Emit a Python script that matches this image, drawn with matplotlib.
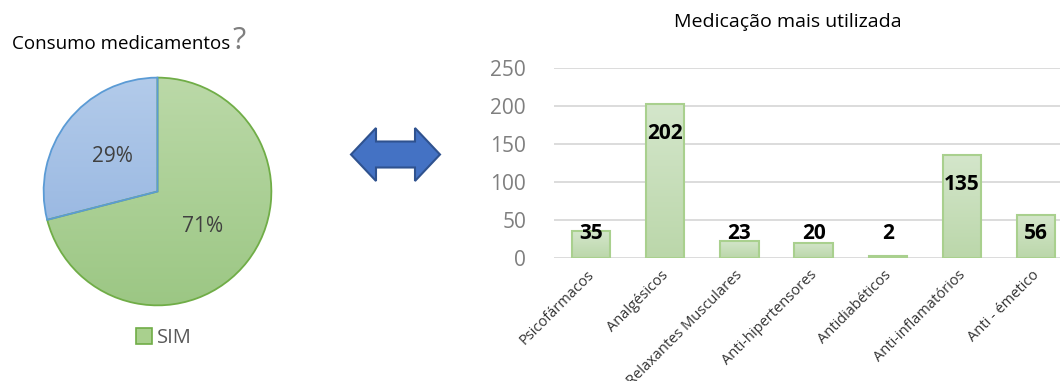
import numpy as np
import matplotlib
matplotlib.use("Agg")
import matplotlib.pyplot as plt
from matplotlib.patches import Patch, Polygon
from matplotlib.colors import LinearSegmentedColormap
import matplotlib.transforms as mtransforms

plt.rcParams['font.family'] = ['Open Sans', 'DejaVu Sans']

# Pie: medication consumption
pie_labels = ['SIM', 'NÃO']
pie_values = [71, 29]

# Bars: most used medication
categories = ['Psicofármacos', 'Analgésicos', 'Relaxantes Musculares',
              'Anti-hipertensores', 'Antidiabéticos', 'Anti-inflamatórios',
              'Anti - émetico']
counts = [35, 202, 23, 20, 2, 135, 56]
yticks = [0, 50, 100, 150, 200, 250]

W, H = 1060, 381
fig = plt.figure(figsize=(W / 100, H / 100), dpi=100)


def fx(px):
    return px / W


def fy(py):
    return 1 - py / H


grad = np.linspace(0, 1, 256).reshape(-1, 1)

# ---------- pie ----------
cx, cy, r = 157.5, 191.5, 115
ax_pie = fig.add_axes([fx(cx - r), fy(cy + r), 2 * r / W, 2 * r / H])
wedges, _, autotexts = ax_pie.pie(
    pie_values, startangle=90, counterclock=False, radius=1,
    autopct='%d%%', pctdistance=0.5,
    colors=['none', 'none'],
    wedgeprops=dict(linewidth=1.3),
    textprops=dict(fontsize=15, color='#404040'))
wedges[0].set_edgecolor('#70AD47')
wedges[1].set_edgecolor('#5B9BD5')

# vertical gradient fill for each wedge
green_cmap = LinearSegmentedColormap.from_list('g', ['#BBD9A8', '#9CC784'])
blue_cmap = LinearSegmentedColormap.from_list('b', ['#B3CBEA', '#8DAFDE'])
for w, cm in zip(wedges, [green_cmap, blue_cmap]):
    im = ax_pie.imshow(grad, cmap=cm, extent=(-1, 1, -1, 1), origin='upper',
                       aspect='auto', zorder=0.5)
    im.set_clip_path(w)
    w.set_zorder(1)
for t in autotexts:
    t.set_zorder(2)
ax_pie.set_xlim(-1.01, 1.01)
ax_pie.set_ylim(-1.01, 1.01)

green_handle = Patch(facecolor='#A9D08E', edgecolor='#70AD47', linewidth=1.2)
ax_pie.legend(handles=[green_handle], labels=[pie_labels[0]], loc='center',
              bbox_to_anchor=(fx(164), fy(338)), bbox_transform=fig.transFigure,
              frameon=False, fontsize=14.5, handlelength=0.8, handleheight=0.8,
              handletextpad=0.25, labelcolor='#595959')

t1 = fig.text(fx(12), fy(44), 'Consumo medicamentos', fontsize=13.5,
              color='#000000', ha='left', va='center')
ax_pie.annotate('?', xy=(1, 0.5), xycoords=t1, xytext=(2, 2),
                textcoords='offset points', fontsize=22, color='#7F7F7F',
                ha='left', va='center', annotation_clip=False)

# ---------- double arrow ----------
ax_arrow = fig.add_axes([0, 0, 1, 1], facecolor='none')
ax_arrow.set_xlim(0, W)
ax_arrow.set_ylim(H, 0)
ax_arrow.axis('off')
x0, x1, yc = 351, 440, 154.5
head_w, head_h, shaft_h = 25, 26.5, 13
shape = [(x0, yc), (x0 + head_w, yc - head_h), (x0 + head_w, yc - shaft_h),
         (x1 - head_w, yc - shaft_h), (x1 - head_w, yc - head_h), (x1, yc),
         (x1 - head_w, yc + head_h), (x1 - head_w, yc + shaft_h),
         (x0 + head_w, yc + shaft_h), (x0 + head_w, yc + head_h)]
ax_arrow.add_patch(Polygon(shape, closed=True, facecolor='#4472C4',
                           edgecolor='#2F528F', linewidth=1.5, joinstyle='miter'))

# ---------- bars ----------
step = 74.2
left = 591 - step / 2
ax = fig.add_axes([fx(left), fy(258), 7 * step / W, (258 - 68) / H])
x = np.arange(len(categories))
bars = ax.bar(x, counts, width=0.52, color='none', edgecolor='#A9D08E',
              linewidth=1.5, zorder=2.5)
bar_cmap = LinearSegmentedColormap.from_list('bar', ['#D4E6CB', '#BBD7AA'])
for b in bars:
    bb = b.get_bbox()
    im = ax.imshow(grad, cmap=bar_cmap, origin='upper', aspect='auto',
                   extent=(bb.x0, bb.x1, bb.y0, bb.y1), zorder=2)
    im.set_clip_path(b)
ax.set_xlim(-0.5, len(categories) - 0.5)
ax.set_ylim(0, 250)
ax.set_yticks(yticks)
ax.set_yticklabels([str(v) for v in yticks])
ax.yaxis.grid(True, color='#D9D9D9', linewidth=1.3, zorder=0)
ax.set_axisbelow(True)
for s in ax.spines.values():
    s.set_visible(False)
ax.tick_params(axis='y', length=0, pad=20, labelsize=15, labelcolor='#7F7F7F')
ax.tick_params(axis='x', length=0, pad=0, labelsize=10.5, labelcolor='#333333')
ax.set_xticks(x)
ax.set_xticklabels(categories, rotation=45, ha='right', va='center',
                   rotation_mode='anchor')
offset = mtransforms.ScaledTranslation(1 / 100, -15 / 100, fig.dpi_scale_trans)
for lbl in ax.get_xticklabels():
    lbl.set_transform(lbl.get_transform() + offset)

# value labels inside the top of each bar, kept above the axis for short bars
for xi, v in zip(x, counts):
    ax.text(xi, max(v - 38, 32), str(v), ha='center', va='center',
            fontsize=15, fontweight='bold', color='#000000', zorder=3)

fig.text(fx(788), fy(22), 'Medicação mais utilizada', fontsize=14,
         color='#000000', ha='center', va='center')

fig.savefig('out.png', dpi=100)
